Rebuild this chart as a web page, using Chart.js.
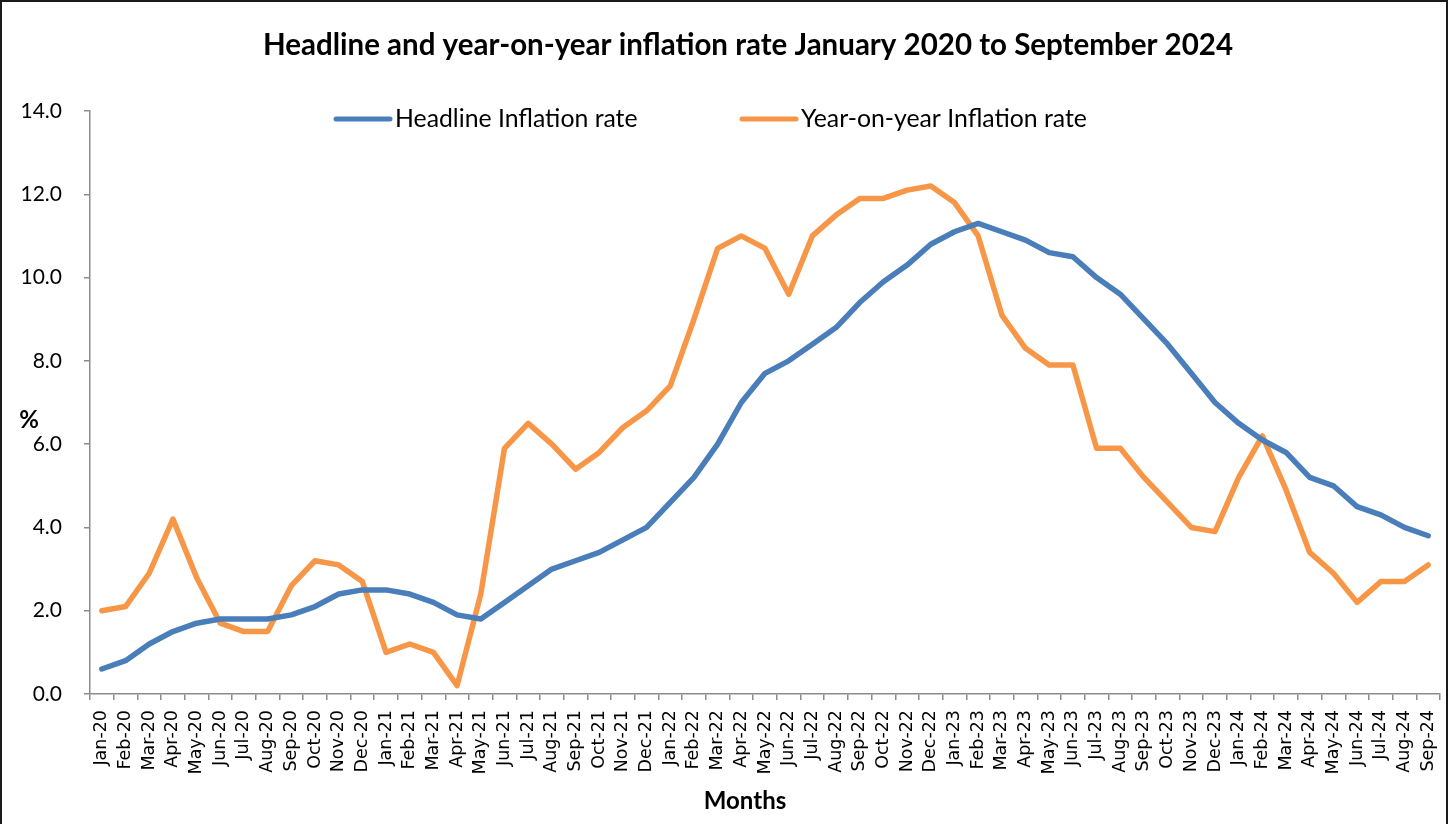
<!DOCTYPE html>
<html>
<head>
<meta charset="utf-8">
<title>Headline and year-on-year inflation rate</title>
<script src="https://cdn.jsdelivr.net/npm/chart.js@4.4.1/dist/chart.umd.min.js"></script>
<style>
  html, body { margin: 0; padding: 0; background: #fff; }
  #wrap { position: relative; width: 1453px; height: 824px; }
</style>
</head>
<body>
<div id="wrap"><canvas id="chart"></canvas></div>
<script>
// month labels, Jan-20 .. Sep-24
const months = [
    'Jan-20', 'Feb-20', 'Mar-20', 'Apr-20', 'May-20', 'Jun-20', 'Jul-20', 'Aug-20', 'Sep-20', 'Oct-20', 'Nov-20', 'Dec-20',
    'Jan-21', 'Feb-21', 'Mar-21', 'Apr-21', 'May-21', 'Jun-21', 'Jul-21', 'Aug-21', 'Sep-21', 'Oct-21', 'Nov-21', 'Dec-21',
    'Jan-22', 'Feb-22', 'Mar-22', 'Apr-22', 'May-22', 'Jun-22', 'Jul-22', 'Aug-22', 'Sep-22', 'Oct-22', 'Nov-22', 'Dec-22',
    'Jan-23', 'Feb-23', 'Mar-23', 'Apr-23', 'May-23', 'Jun-23', 'Jul-23', 'Aug-23', 'Sep-23', 'Oct-23', 'Nov-23', 'Dec-23',
    'Jan-24', 'Feb-24', 'Mar-24', 'Apr-24', 'May-24', 'Jun-24', 'Jul-24', 'Aug-24', 'Sep-24'
];

// headline inflation rate (%)
const headline = [
    0.6, 0.8, 1.2, 1.5, 1.7, 1.8, 1.8, 1.8, 1.9, 2.1, 2.4, 2.5,
    2.5, 2.4, 2.2, 1.9, 1.8, 2.2, 2.6, 3.0, 3.2, 3.4, 3.7, 4.0,
    4.6, 5.2, 6.0, 7.0, 7.7, 8.0, 8.4, 8.8, 9.4, 9.9, 10.3, 10.8,
    11.1, 11.3, 11.1, 10.9, 10.6, 10.5, 10.0, 9.6, 9.0, 8.4, 7.7, 7.0,
    6.5, 6.1, 5.8, 5.2, 5.0, 4.5, 4.3, 4.0, 3.8
];

// year-on-year inflation rate (%)
const yearOnYear = [
    2.0, 2.1, 2.9, 4.2, 2.8, 1.7, 1.5, 1.5, 2.6, 3.2, 3.1, 2.7,
    1.0, 1.2, 1.0, 0.2, 2.4, 5.9, 6.5, 6.0, 5.4, 5.8, 6.4, 6.8,
    7.4, 9.0, 10.7, 11.0, 10.7, 9.6, 11.0, 11.5, 11.9, 11.9, 12.1, 12.2,
    11.8, 11.0, 9.1, 8.3, 7.9, 7.9, 5.9, 5.9, 5.2, 4.6, 4.0, 3.9,
    5.2, 6.2, 4.9, 3.4, 2.9, 2.2, 2.7, 2.7, 3.1
];

const seriesNames = ['Headline Inflation rate', 'Year-on-year Inflation rate'];
const yMin = 0;
const yMax = 14;
const yStep = 2;

const BLUE = '#4a7ebb';
const ORANGE = '#f79646';
const AXIS_GREY = '#8c8c8c';

/**
 * Frame, title, legend and axis captions drawn straight on the canvas.
 */
const decorPlugin = {
    id: 'decor',
    afterDraw(chart) {
        const ctx = chart.ctx;
        ctx.save();

        // outer frame (bottom edge falls outside the picture)
        ctx.strokeStyle = '#1a1a1a';
        ctx.lineWidth = 2;
        ctx.strokeRect(1, 1, 1446, chart.height + 4);

        // title
        ctx.fillStyle = '#000';
        ctx.textAlign = 'center';
        ctx.textBaseline = 'middle';
        ctx.font = 'bold 29.5px Lato';
        ctx.fillText('Headline and year-on-year inflation rate January 2020 to September 2024', 748, 45);

        // legend, sitting inside the plot area
        const legendX = [336, 742];
        ctx.font = '24.8px Lato';
        ctx.textAlign = 'left';
        chart.data.datasets.forEach((ds, i) => {
            const x = legendX[i];
            ctx.strokeStyle = ds.borderColor;
            ctx.lineWidth = 5;
            ctx.lineCap = 'round';
            ctx.beginPath();
            ctx.moveTo(x, 119);
            ctx.lineTo(x + 54, 119);
            ctx.stroke();
            ctx.fillStyle = '#000';
            ctx.fillText(ds.label, x + 59, 119);
        });

        // axis captions
        ctx.font = 'bold 24px Lato';
        ctx.textAlign = 'center';
        ctx.fillText('%', 29, 420);
        ctx.fillText('Months', 745, 801);

        ctx.restore();
    }
};

const ctx = document.getElementById('chart').getContext('2d');

new Chart(ctx, {
    type: 'line',
    data: {
        labels: months,
        datasets: [{
            label: seriesNames[0],
            data: headline,
            borderColor: BLUE,
            backgroundColor: BLUE,
            borderWidth: 5.5,
            pointRadius: 0,
            tension: 0,
            borderCapStyle: 'round',
            borderJoinStyle: 'round',
        }, {
            label: seriesNames[1],
            data: yearOnYear,
            borderColor: ORANGE,
            backgroundColor: ORANGE,
            borderWidth: 5.5,
            pointRadius: 0,
            tension: 0,
            borderCapStyle: 'round',
            borderJoinStyle: 'round',
        }]
    },
    options: {
        responsive: true,
        maintainAspectRatio: false,
        animation: false,
        layout: {
            padding: { left: 0, right: 13, top: 111, bottom: 0 }
        },
        plugins: {
            legend: { display: false },
            title: { display: false },
            tooltip: { enabled: false },
        },
        scales: {
            x: {
                type: 'category',
                offset: true,
                afterFit(scale) {
                    scale.height = 130;
                    // rotated end labels should not shrink the plot
                    scale.paddingLeft = 0;
                    scale.paddingRight = 0;
                },
                grid: {
                    display: true,
                    offset: true,
                    drawOnChartArea: false,
                    drawTicks: true,
                    tickLength: 6,
                    color: AXIS_GREY,
                    lineWidth: 1.5,
                },
                border: { display: true, color: AXIS_GREY, width: 1.5 },
                ticks: {
                    autoSkip: false,
                    minRotation: 90,
                    maxRotation: 90,
                    padding: 10,
                    color: '#000',
                    font: { family: 'DejaVu Sans', size: 17.5 },
                }
            },
            y: {
                min: yMin,
                max: yMax,
                afterFit(scale) { scale.width = 90; },
                grid: {
                    display: true,
                    drawOnChartArea: false,
                    drawTicks: true,
                    tickLength: 6,
                    color: AXIS_GREY,
                    lineWidth: 1.5,
                },
                border: { display: true, color: AXIS_GREY, width: 1.5 },
                ticks: {
                    stepSize: yStep,
                    padding: 22,
                    color: '#000',
                    font: { family: 'Lato', size: 21 },
                    callback: (v) => Number(v).toFixed(1),
                }
            }
        }
    },
    plugins: [decorPlugin]
});
</script>
</body>
</html>
